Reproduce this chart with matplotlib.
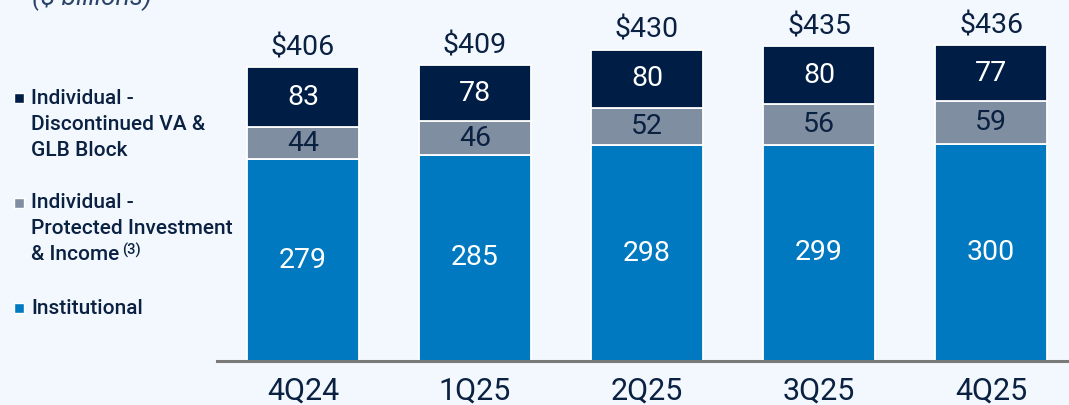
import matplotlib.pyplot as plt
from matplotlib.patches import Rectangle

quarters = ['4Q24', '1Q25', '2Q25', '3Q25', '4Q25']
institutional = [279, 285, 298, 299, 300]
protected = [44, 46, 52, 56, 59]
discontinued = [83, 78, 80, 80, 77]
totals = ['$406', '$409', '$430', '$435', '$436']

BG = '#F3F8FE'
NAVY = '#001E45'
GREY = '#7F8FA1'
BLUE = '#0079C1'
TXT = '#0B2142'

NUM_FONT = ['Roboto', 'DejaVu Sans']
LEG_FONT = ['Roboto', 'DejaVu Sans']

W, H = 1069, 405
fig = plt.figure(figsize=(W / 100, H / 100), dpi=100, facecolor=BG)

# axes: left edge of baseline at x=217px, baseline at y=361px
ax = fig.add_axes([217 / W, 1 - 361 / H, 1 - 217 / W, 361 / H])
ax.set_facecolor(BG)
ax.set_xlim(-0.5, 4.453)
ax.set_ylim(0, 361 / 0.724)

x = list(range(len(quarters)))
bw = 0.655
b2 = [a + b for a, b in zip(institutional, protected)]
ax.bar(x, institutional, bw, color=BLUE, edgecolor='white', linewidth=1.3, zorder=2)
ax.bar(x, protected, bw, bottom=institutional, color=GREY, edgecolor='white', linewidth=1.3, zorder=2)
ax.bar(x, discontinued, bw, bottom=b2, color=NAVY, edgecolor='white', linewidth=1.3, zorder=2)

fs = 20.5
for i in x:
    ax.text(i, institutional[i] / 2, str(institutional[i]), ha='center', va='center',
            color='white', fontsize=fs, family=NUM_FONT)
    ax.text(i, institutional[i] + protected[i] / 2, str(protected[i]), ha='center', va='center',
            color=TXT, fontsize=fs, family=NUM_FONT)
    ax.text(i, b2[i] + discontinued[i] / 2, str(discontinued[i]), ha='center', va='center',
            color='white', fontsize=fs, family=NUM_FONT)
    top = b2[i] + discontinued[i]
    ax.annotate(totals[i], (i, top), xytext=(0, 8.5), textcoords='offset points',
                ha='center', va='baseline', color=TXT, fontsize=fs, family=NUM_FONT)

for s in ['top', 'right', 'left']:
    ax.spines[s].set_visible(False)
ax.spines['bottom'].set_color('#7A7A7A')
ax.spines['bottom'].set_linewidth(2.2)
ax.spines['bottom'].set_zorder(3)
ax.set_yticks([])
ax.set_xticks(x)
ax.set_xticklabels(quarters, family=NUM_FONT, fontsize=22, color=TXT)
ax.tick_params(axis='x', length=0, pad=11)

# unit note, cut off by the top edge
fig.text(32 / W, 1 - 5 / H, '($ billions)', fontsize=19, style='italic',
         color='#2A4468', family=NUM_FONT, va='baseline')

# legend drawn by hand
legend = [
    (NAVY, ['Individual -', 'Discontinued VA &', 'GLB Block'], 98),
    (GREY, ['Individual -', 'Protected Investment', '& Income'], 203),
    (BLUE, ['Institutional'], 308),
]
for col, lines, y0 in legend:
    fig.patches.append(Rectangle((14 / W, 1 - (y0 + 5) / H), 10 / W, 10 / H,
                                 transform=fig.transFigure, facecolor=col,
                                 edgecolor='white', linewidth=1, figure=fig))
    t = None
    for k, line in enumerate(lines):
        t = fig.text(31 / W, 1 - (y0 + 26 * k) / H, line, fontsize=15, color=TXT,
                     family=LEG_FONT, weight='medium', va='center')
    if lines[-1] == '& Income':
        plt.annotate('(3)', xy=(1, 1), xycoords=t, xytext=(2, 2), textcoords='offset points',
                     fontsize=10.5, color=TXT, family=LEG_FONT, weight='medium',
                     va='top', ha='left')

fig.savefig('out.png', dpi=100, facecolor=BG)
